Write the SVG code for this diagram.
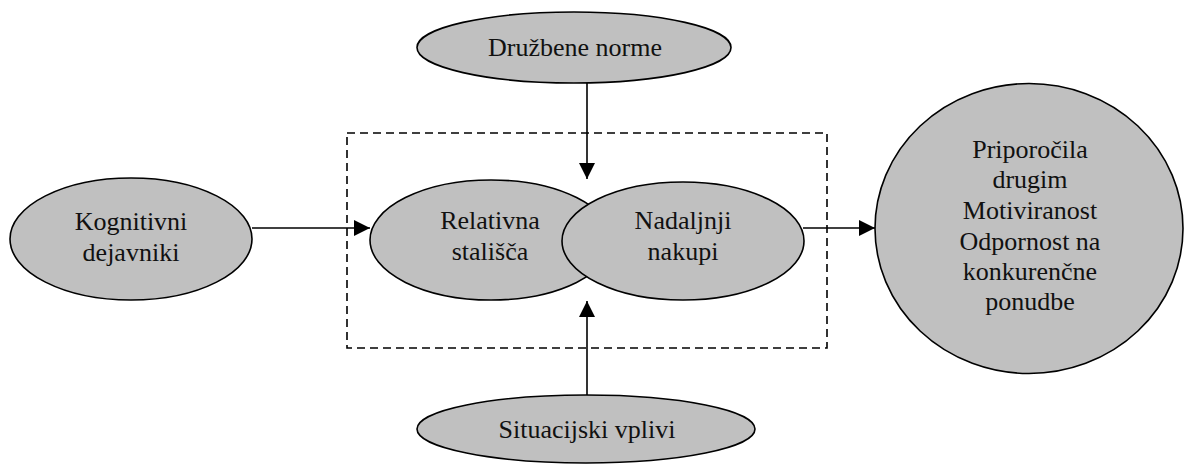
<svg xmlns="http://www.w3.org/2000/svg" width="1184" height="464" viewBox="0 0 1184 464">
<style>
.node{fill:#c0c0c0;stroke:#000;stroke-width:1.6}
.lbl{font-family:"Liberation Serif","Times New Roman",serif;font-size:26px;fill:#111;text-anchor:middle}
.con{stroke:#000;stroke-width:1.6;fill:none}
.dash{stroke:#000;stroke-width:1.6;fill:none;stroke-dasharray:8 5}
</style>
<defs>
<marker id="arr" markerUnits="userSpaceOnUse" markerWidth="17" markerHeight="17" refX="16" refY="8" orient="auto">
<path d="M0,0 L16,8 L0,16 Z" fill="#000"/>
</marker>
</defs>
<rect class="dash" x="347" y="133" width="480" height="215"/>
<g id="druzbene-norme">
<ellipse class="node" cx="574" cy="47.5" rx="157" ry="35.5"/>
<text class="lbl" x="575" y="56">Družbene norme</text>
</g>
<g id="kognitivni-dejavniki">
<ellipse class="node" cx="131" cy="239" rx="121" ry="61"/>
<text class="lbl" x="131" y="230">Kognitivni</text>
<text class="lbl" x="131" y="261">dejavniki</text>
</g>
<g id="relativna-stalisca">
<ellipse class="node" cx="491" cy="240" rx="121" ry="60"/>
<text class="lbl" x="490" y="229">Relativna</text>
<text class="lbl" x="490" y="260">stališča</text>
</g>
<g id="nadaljnji-nakupi">
<ellipse class="node" cx="683" cy="241" rx="121" ry="59"/>
<text class="lbl" x="683" y="229">Nadaljnji</text>
<text class="lbl" x="683" y="260">nakupi</text>
</g>
<g id="izidi">
<ellipse class="node" cx="1029" cy="228.5" rx="154" ry="145"/>
<text class="lbl" x="1030" y="158">Priporočila</text>
<text class="lbl" x="1030" y="188">drugim</text>
<text class="lbl" x="1030" y="219">Motiviranost</text>
<text class="lbl" x="1030" y="250">Odpornost na</text>
<text class="lbl" x="1030" y="280">konkurenčne</text>
<text class="lbl" x="1030" y="310">ponudbe</text>
</g>
<g id="situacijski-vplivi">
<ellipse class="node" cx="586" cy="429" rx="169" ry="34"/>
<text class="lbl" x="587" y="438">Situacijski vplivi</text>
</g>
<g id="connectors">
<line class="con" x1="587" y1="83" x2="587" y2="179" marker-end="url(#arr)"/>
<line class="con" x1="587" y1="395" x2="587" y2="301" marker-end="url(#arr)"/>
<line class="con" x1="252" y1="228" x2="370" y2="228" marker-end="url(#arr)"/>
<line class="con" x1="803" y1="228" x2="875" y2="228" marker-end="url(#arr)"/>
</g>
</svg>
